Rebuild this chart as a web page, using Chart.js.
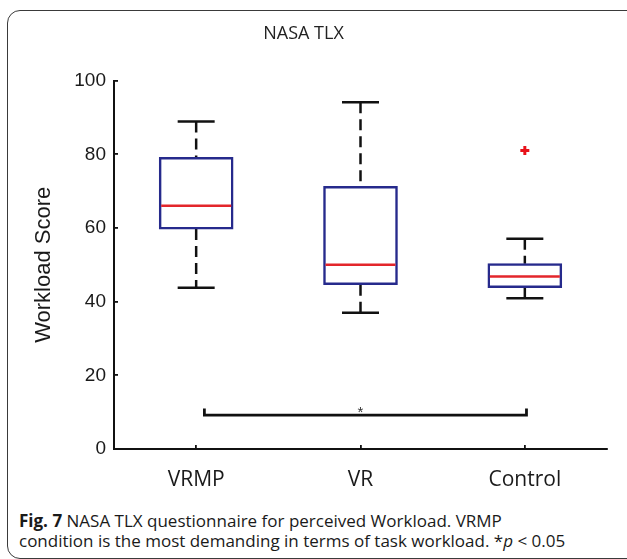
<!DOCTYPE html>
<html>
<head>
<meta charset="utf-8">
<script src="https://cdn.jsdelivr.net/npm/chart.js@4"></script>
<style>
  html, body { margin: 0; padding: 0; background: #fff; overflow: hidden; }
  body { width: 627px; height: 559px; position: relative; }
  #frame {
    position: absolute; left: 7px; top: 10px; width: 650px; height: 547px;
    border: 1.5px solid #3a3a3a; border-radius: 13px;
  }
  #wrap { position: absolute; left: 0; top: 0; width: 627px; height: 500px; }
  #caption {
    position: absolute; left: 19px; top: 511px;
    font-family: "Open Sans", sans-serif; font-size: 17px; line-height: 20px;
    color: #1a1a1a; white-space: nowrap;
  }
  #caption b { font-weight: 700; }
</style>
</head>
<body>
<div id="frame"></div>
<div id="wrap"><canvas id="TlxChart" width="627" height="500"></canvas></div>
<div id="caption"><b>Fig. 7</b> NASA TLX questionnaire for perceived Workload. VRMP<br>condition is the most demanding in terms of task workload. *<i>p</i> &lt; 0.05</div>

<script>
// groups on the x axis
var categories = ['VRMP', 'VR', 'Control'];

// box plot values
var whiskerLow  = [43.8, 37.0, 40.9];
var q1          = [59.7, 44.6, 43.8];
var medians     = [66.0, 50.0, 46.8];
var q3          = [79.2, 71.3, 50.3];
var whiskerHigh = [88.9, 94.1, 57.1];

// outliers (red +)
var outlierGroups = ['Control'];
var outlierValues = [81.0];

// significance bracket between VRMP and Control
var bracketX = [1.05, 3.01];
var bracketY = 9.2;
var bracketTipY = 11;
var bracketLabel = '*';
var bracketLabelY = 10.6;

var boxBlue = '#262a8c';
var medRed = '#e3262b';
var ink = '#111111';

// x position of each group (1, 2, 3)
var xPos = categories.map(function (c, i) { return i + 1; });

var boxes = xPos.map(function (x, i) { return { x: x, y: [q1[i], q3[i]] }; });
var medianPts = xPos.map(function (x, i) { return { x: x, y: medians[i] }; });
var capPts = [];
var whiskerPts = [];
xPos.forEach(function (x, i) {
  capPts.push({ x: x, y: whiskerHigh[i] });
  capPts.push({ x: x, y: whiskerLow[i] });
  whiskerPts.push({ x: x, y: whiskerHigh[i] }, { x: x, y: q3[i] }, { x: x, y: null });
  whiskerPts.push({ x: x, y: q1[i] }, { x: x, y: whiskerLow[i] }, { x: x, y: null });
});
var outlierPts = outlierGroups.map(function (g, i) {
  return { x: categories.indexOf(g) + 1, y: outlierValues[i] };
});
var bracketPts = [
  { x: bracketX[0], y: bracketTipY },
  { x: bracketX[0], y: bracketY },
  { x: bracketX[1], y: bracketY },
  { x: bracketX[1], y: bracketTipY }
];

// draws the * over the bracket
var starPlugin = {
  id: 'star',
  afterDatasetsDraw: function (chart) {
    var ctx = chart.ctx;
    var sx = chart.scales.x, sy = chart.scales.y;
    ctx.save();
    ctx.fillStyle = '#333';
    ctx.font = '15px "Liberation Sans", Arial, sans-serif';
    ctx.textAlign = 'center';
    ctx.textBaseline = 'middle';
    ctx.fillText(bracketLabel, sx.getPixelForValue(2), sy.getPixelForValue(bracketLabelY) + 3);
    ctx.restore();
  }
};

var ctx = document.getElementById('TlxChart').getContext('2d');
var chart = new Chart(ctx, {
  type: 'bar',
  data: {
    datasets: [
      {
        type: 'line', data: whiskerPts,
        borderColor: ink, borderWidth: 2.5, borderDash: [11, 6],
        pointRadius: 0, spanGaps: false, order: 3
      },
      {
        type: 'bar', data: boxes,
        backgroundColor: 'rgba(255,255,255,1)', borderColor: boxBlue,
        borderWidth: 2.5, borderSkipped: false, barThickness: 74, order: 2
      },
      {
        type: 'scatter', data: medianPts,
        pointStyle: 'line', pointRadius: 35, borderColor: medRed, borderWidth: 2.5, order: 1
      },
      {
        type: 'scatter', data: capPts,
        pointStyle: 'line', pointRadius: 18.5, borderColor: ink, borderWidth: 2.5, order: 1
      },
      {
        type: 'scatter', data: outlierPts,
        pointStyle: 'cross', pointRadius: 4.5, borderColor: '#e8121a', borderWidth: 3, order: 1
      },
      {
        type: 'line', data: bracketPts,
        borderColor: ink, borderWidth: 2.8, pointRadius: 0, order: 1
      }
    ]
  },
  plugins: [starPlugin],
  options: {
    responsive: false,
    animation: false,
    layout: { autoPadding: false, padding: { left: 0, right: 20, top: 0, bottom: 11 } },
    plugins: {
      legend: { display: false },
      tooltip: { enabled: false },
      title: {
        display: true,
        text: 'NASA TLX',
        color: '#222',
        font: { family: '"Open Sans", sans-serif', size: 18, weight: 'normal' },
        padding: { top: 23, bottom: 36 }
      }
    },
    scales: {
      x: {
        type: 'linear', min: 0.5, max: 3.5, offset: false,
        grid: { offset: false, drawOnChartArea: false, tickLength: -4, color: ink, lineWidth: 1.8 },
        border: { color: ink, width: 2 },
        afterBuildTicks: function (s) {
          s.ticks = xPos.map(function (v) { return { value: v }; });
        },
        afterFit: function (s) {
          s.height = 40;
          s.paddingLeft = 0;
          s.paddingRight = 0;
        },
        ticks: {
          autoSkip: false, maxRotation: 0,
          color: '#1a1a1a', padding: 22,
          font: { family: '"Open Sans", sans-serif', size: 21 },
          callback: function (v) { return categories[v - 1] || ''; }
        }
      },
      y: {
        min: 0, max: 100,
        grid: { drawOnChartArea: false, tickLength: -4, color: ink, lineWidth: 1.8 },
        border: { color: ink, width: 2 },
        afterFit: function (s) { s.width = 114; },
        ticks: {
          stepSize: 20, color: '#1a1a1a', padding: 12,
          font: { family: '"Liberation Sans", Arial, sans-serif', size: 19 }
        },
        title: {
          display: true, text: 'Workload Score', color: '#1a1a1a',
          font: { family: '"Liberation Sans", Arial, sans-serif', size: 22 },
          padding: { top: 31, bottom: 0 }
        }
      }
    }
  }
});
</script>
</body>
</html>
